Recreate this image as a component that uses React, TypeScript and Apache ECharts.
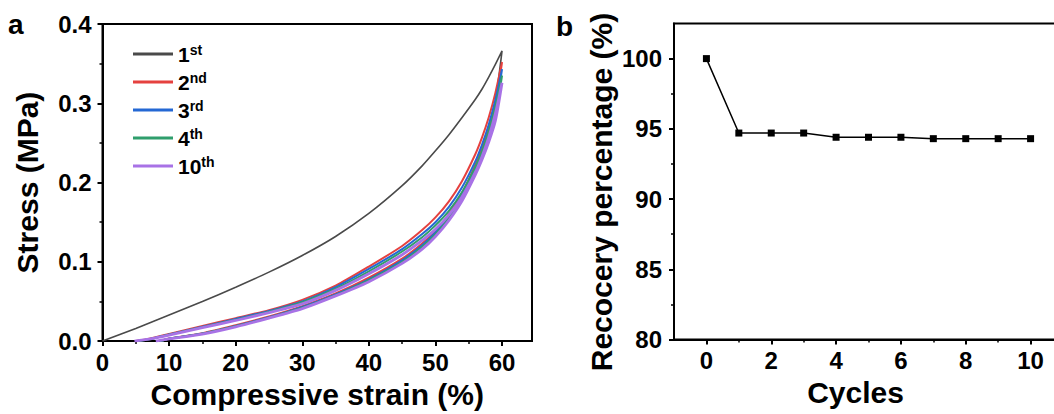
import React, { useEffect, useRef } from "react";
import * as echarts from "echarts";

// ---------- Data ----------
// Panel a: stress-strain loops (loading then unloading), strain %, stress MPa
const cycleNames = ["1st", "2nd", "3rd", "4th", "10th"];
const cycleColors = ["#4a4a4a", "#e5413f", "#2468d4", "#2f9e6c", "#a872e6"];

const cycle1Strain = [0, 5, 10, 15, 20, 25, 30, 35, 40, 45, 48, 50, 52, 54, 56, 57, 58, 59, 60, 59, 58, 57, 56, 54, 52, 50, 48, 45, 40, 35, 30, 25, 20, 15, 10, 8.7];
const cycle1Stress = [0, 0.016, 0.033, 0.05, 0.068, 0.087, 0.108, 0.132, 0.161, 0.196, 0.221, 0.24, 0.26, 0.282, 0.305, 0.318, 0.333, 0.349, 0.366, 0.303, 0.27, 0.244, 0.222, 0.186, 0.159, 0.138, 0.122, 0.103, 0.079, 0.059, 0.043, 0.03, 0.019, 0.0093, 0.0028, 0];

const cycle2Strain = [5, 7, 10, 15, 20, 25, 30, 35, 40, 45, 48, 50, 52, 54, 56, 57, 58, 59, 60, 59, 58, 57, 56, 54, 52, 50, 48, 45, 40, 35, 30, 25, 20, 15, 10, 8.6];
const cycle2Stress = [0, 0.003, 0.009, 0.019, 0.029, 0.039, 0.052, 0.07, 0.094, 0.12, 0.14, 0.156, 0.176, 0.202, 0.236, 0.257, 0.282, 0.313, 0.352, 0.298, 0.268, 0.243, 0.222, 0.187, 0.16, 0.139, 0.123, 0.104, 0.08, 0.06, 0.044, 0.031, 0.02, 0.01, 0.0032, 0];

const cycle3Strain = [5.2, 7, 10, 15, 20, 25, 30, 35, 40, 45, 48, 50, 52, 54, 56, 57, 58, 59, 60, 59, 58, 57, 56, 54, 52, 50, 48, 45, 40, 35, 30, 25, 20, 15, 10, 8.6];
const cycle3Stress = [0, 0.0025, 0.0085, 0.018, 0.028, 0.038, 0.05, 0.068, 0.091, 0.116, 0.135, 0.15, 0.169, 0.194, 0.227, 0.248, 0.273, 0.304, 0.343, 0.291, 0.262, 0.238, 0.218, 0.184, 0.158, 0.137, 0.121, 0.102, 0.078, 0.059, 0.043, 0.03, 0.0192, 0.0095, 0.003, 0];

const cycle4Strain = [5.3, 7, 10, 15, 20, 25, 30, 35, 40, 45, 48, 50, 52, 54, 56, 57, 58, 59, 60, 59, 58, 57, 56, 54, 52, 50, 48, 45, 40, 35, 30, 25, 20, 15, 10, 8.7];
const cycle4Stress = [0, 0.0022, 0.008, 0.0175, 0.027, 0.037, 0.049, 0.066, 0.088, 0.113, 0.131, 0.146, 0.164, 0.188, 0.22, 0.24, 0.265, 0.296, 0.335, 0.285, 0.257, 0.234, 0.214, 0.181, 0.155, 0.135, 0.119, 0.1, 0.077, 0.058, 0.042, 0.0295, 0.0187, 0.0092, 0.0029, 0];

const cycle10Strain = [4.8, 7, 10, 15, 20, 25, 30, 35, 40, 45, 48, 50, 52, 54, 56, 57, 58, 59, 60, 59, 58, 57, 56, 54, 52, 50, 48, 45, 40, 35, 30, 25, 20, 15, 10, 8.0];
const cycle10Stress = [0, 0.0025, 0.0075, 0.017, 0.026, 0.036, 0.047, 0.064, 0.085, 0.109, 0.127, 0.141, 0.159, 0.182, 0.213, 0.233, 0.257, 0.287, 0.326, 0.278, 0.251, 0.229, 0.21, 0.177, 0.152, 0.132, 0.116, 0.098, 0.075, 0.057, 0.041, 0.029, 0.018, 0.0088, 0.0027, 0];

const strainTicks = [0, 10, 20, 30, 40, 50, 60];
const strainMinorTicks = [5, 15, 25, 35, 45, 55];

// Panel b: recovery percentage vs cycles
const cycles = [0, 1, 2, 3, 4, 5, 6, 7, 8, 9, 10];
const recovery = [100, 94.7, 94.7, 94.7, 94.4, 94.4, 94.4, 94.3, 94.3, 94.3, 94.3];
const cycleTicks = [0, 2, 4, 6, 8, 10];
const cycleMinorTicks = [1, 3, 5, 7, 9];
const recoveryTicks = [80, 85, 90, 95, 100];
const recoveryMinorTicks = [82.5, 87.5, 92.5, 97.5];

const FONT = "'Liberation Sans', Arial, Helvetica, sans-serif";

const zip = (xs: number[], ys: number[]) => xs.map((x, i) => [x, ys[i]]);

export default function App() {
  const ref = useRef<HTMLDivElement>(null);
  useEffect(() => {
    if (!ref.current) return;
    const chart = echarts.init(ref.current, undefined, { renderer: "svg" });

    const labelStyle = { fontSize: 24, fontWeight: "bold", color: "#000", fontFamily: FONT };
    const nameStyle = { fontSize: 30, fontWeight: "bold", color: "#000", fontFamily: FONT };
    const lineStyle = { color: "#000", width: 2 };

    const mainAxis = (extra: any) => ({
      type: "value",
      axisLine: { show: true, onZero: false, lineStyle },
      splitLine: { show: false },
      ...extra,
    });
    const minorAxis = (extra: any, vals: number[]) => ({
      type: "value",
      axisLine: { show: false, onZero: false },
      axisLabel: { show: false },
      splitLine: { show: false },
      axisTick: { show: vals.length > 0, inside: false, length: 3, customValues: vals, lineStyle: { color: "#000", width: 1.5 } },
      ...extra,
    });

    const aSeries = [
      zip(cycle1Strain, cycle1Stress),
      zip(cycle2Strain, cycle2Stress),
      zip(cycle3Strain, cycle3Stress),
      zip(cycle4Strain, cycle4Stress),
      zip(cycle10Strain, cycle10Stress),
    ].map((d, i) => ({
      type: "line",
      name: cycleNames[i],
      xAxisIndex: 0,
      yAxisIndex: 0,
      data: d,
      showSymbol: false,
      symbol: "none",
      smooth: 0.25,
      color: cycleColors[i],
      lineStyle: { width: i === 0 ? 1.6 : i === 4 ? 2.8 : 2, color: cycleColors[i] },
      z: 2 + i,
    }));

    chart.setOption({
      animation: false,
      backgroundColor: "#fff",
      grid: [
        { left: 102.5, top: 24, width: 429.5, height: 319, show: true, borderColor: "#000", borderWidth: 2, containLabel: false },
        { left: 674, top: 23.5, width: 389, height: 316, show: true, borderColor: "#000", borderWidth: 2, containLabel: false },
      ],
      xAxis: [
        mainAxis({
          gridIndex: 0, position: "bottom", min: 0, max: 64.5,
          axisTick: { show: true, inside: false, length: 5, customValues: strainTicks, lineStyle: { color: "#000", width: 2 } },
          axisLabel: { ...labelStyle, margin: 9, customValues: strainTicks },
          name: "Compressive strain (%)", nameLocation: "middle", nameGap: 33, nameTextStyle: nameStyle,
        }),
        minorAxis({ gridIndex: 0, position: "bottom", min: 0, max: 64.5 }, strainMinorTicks),
        mainAxis({
          gridIndex: 1, position: "bottom", min: -1, max: 11,
          axisTick: { show: true, inside: false, length: 5, customValues: cycleTicks, lineStyle: { color: "#000", width: 2 } },
          axisLabel: { ...labelStyle, margin: 9, customValues: cycleTicks },
          name: "Cycles", nameLocation: "middle", nameGap: 33,
          nameTextStyle: { ...nameStyle, padding: [0, 26, 0, 0] },
        }),
        minorAxis({ gridIndex: 1, position: "bottom", min: -1, max: 11 }, cycleMinorTicks),
      ],
      yAxis: [
        mainAxis({
          gridIndex: 0, position: "left", min: 0, max: 0.4, interval: 0.1,
          axisTick: { show: true, inside: false, length: 5, lineStyle: { color: "#000", width: 2 } },
          minorTick: { show: true, splitNumber: 2, length: 3, lineStyle: { color: "#000", width: 1.5 } },
          axisLabel: { ...labelStyle, margin: 11, formatter: (v: number) => v.toFixed(1) },
          name: "Stress (MPa)", nameLocation: "middle", nameGap: 60, nameTextStyle: nameStyle,
        }),
        minorAxis({ gridIndex: 0, position: "left", min: 0, max: 0.4 }, []),
        mainAxis({
          gridIndex: 1, position: "left", min: 80, max: 102.5,
          axisTick: { show: true, inside: false, length: 5, customValues: recoveryTicks, lineStyle: { color: "#000", width: 2 } },
          axisLabel: { ...labelStyle, margin: 12, customValues: recoveryTicks },
          name: "Recocery percentage (%)", nameLocation: "middle", nameGap: 58,
          nameTextStyle: { ...nameStyle, padding: [0, 21, 0, 0] },
        }),
        minorAxis({ gridIndex: 1, position: "left", min: 80, max: 102.5 }, recoveryMinorTicks),
      ],
      legend: {
        orient: "vertical",
        left: 128,
        top: 38,
        itemWidth: 40,
        itemHeight: 3,
        itemGap: 6,
        icon: "rect",
        data: cycleNames,
        selectedMode: false,
        formatter: (name: string) => {
          const m = name.match(/^(\d+)(\D+)$/);
          return m ? `{n|${m[1]}}{s|${m[2]}}` : name;
        },
        textStyle: {
          fontFamily: FONT,
          fontWeight: "bold",
          color: "#000",
          rich: {
            n: { fontSize: 21, fontWeight: "bold", fontFamily: FONT, color: "#000", lineHeight: 22, verticalAlign: "bottom" },
            s: { fontSize: 14, fontWeight: "bold", fontFamily: FONT, color: "#000", lineHeight: 14, verticalAlign: "top" },
          },
        },
      },
      graphic: [
        { type: "text", x: 8, y: 24, style: { text: "a", fontSize: 28, fontWeight: "bold", fontFamily: FONT, fill: "#000", verticalAlign: "middle" } },
        { type: "text", x: 556, y: 26, style: { text: "b", fontSize: 28, fontWeight: "bold", fontFamily: FONT, fill: "#000", verticalAlign: "middle" } },
      ],
      series: [
        ...aSeries,
        {
          type: "line",
          name: "Recovery",
          xAxisIndex: 2,
          yAxisIndex: 2,
          data: zip(cycles, recovery),
          symbol: "rect",
          symbolSize: 7,
          color: "#000",
          lineStyle: { color: "#000", width: 1.5 },
          itemStyle: { color: "#000" },
        },
      ],
    });
    return () => chart.dispose();
  }, []);
  return (
    <div style={{ position: "absolute", left: 0, top: 0, width: 1054, height: 414, overflow: "hidden", background: "#fff" }}>
      <div ref={ref} style={{ position: "absolute", left: 0, top: 0, width: 1100, height: 414 }} />
    </div>
  );
}
